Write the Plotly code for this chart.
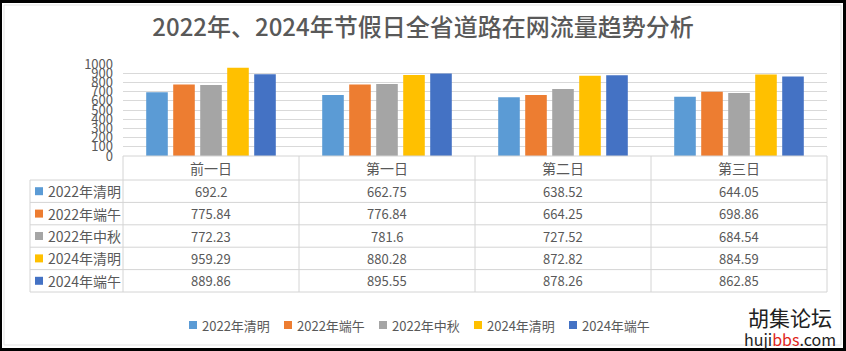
import plotly.graph_objects as go

# ---------------- data ----------------
categories = ["前一日", "第一日", "第二日", "第三日"]
series_names = ["2022年清明", "2022年端午", "2022年中秋", "2024年清明", "2024年端午"]
qingming_2022 = [692.2, 662.75, 638.52, 644.05]
duanwu_2022 = [775.84, 776.84, 664.25, 698.86]
zhongqiu_2022 = [772.23, 781.6, 727.52, 684.54]
qingming_2024 = [959.29, 880.28, 872.82, 884.59]
duanwu_2024 = [889.86, 895.55, 878.26, 862.85]
y_tick_values = [0, 100, 200, 300, 400, 500, 600, 700, 800, 900, 1000]
title_text = "2022年、2024年节假日全省道路在网流量趋势分析"

series_values = [qingming_2022, duanwu_2022, zhongqiu_2022, qingming_2024, duanwu_2024]
colors = ["#5B9BD5", "#ED7D31", "#A5A5A5", "#FFC000", "#4472C4"]

# ---------------- geometry (pixels) ----------------
W, H = 846, 351
L, R, T, B = 123, 19, 64, 195
PW, PH = W - L - R, H - T - B
FONT = "Noto Sans CJK SC"
TXT = "#595959"
LINE = "#D4D4D4"


def px(x):
    return (x - L) / PW


def py(y):
    return (H - B - y) / PH


fig = go.Figure()
for name, vals, col in zip(series_names, series_values, colors):
    fig.add_trace(go.Bar(x=categories, y=vals, name=name, marker_color=col,
                         marker_line_width=0, showlegend=False))

shapes = []
annotations = []

# table rows
header_top, header_bot = 156, 180
row_h = (292 - 180) / 5
row_lines = [header_bot + i * row_h for i in range(6)]
col_edges = [L + i * PW / len(categories) for i in range(len(categories) + 1)]
label_left = 30

# horizontal lines
shapes.append(dict(type="line", xref="paper", yref="paper", x0=px(L), x1=px(W - R),
                   y0=py(header_top), y1=py(header_top), line=dict(color=LINE, width=1)))
for yy in row_lines:
    shapes.append(dict(type="line", xref="paper", yref="paper", x0=px(label_left), x1=px(W - R),
                       y0=py(yy), y1=py(yy), line=dict(color=LINE, width=1)))
# vertical lines
for xx in col_edges:
    shapes.append(dict(type="line", xref="paper", yref="paper", x0=px(xx), x1=px(xx),
                       y0=py(header_top), y1=py(row_lines[-1]), line=dict(color=LINE, width=1)))
shapes.append(dict(type="line", xref="paper", yref="paper", x0=px(label_left), x1=px(label_left),
                   y0=py(header_bot), y1=py(row_lines[-1]), line=dict(color=LINE, width=1)))

# header labels
for c in categories:
    annotations.append(dict(x=c, xref="x", y=py((header_top + header_bot) / 2), yref="paper",
                            text=c, showarrow=False, xanchor="center", yanchor="middle",
                            font=dict(family=FONT, size=14, color=TXT)))
# rows
for i, (name, vals, col) in enumerate(zip(series_names, series_values, colors)):
    yc = row_lines[i] + row_h / 2
    shapes.append(dict(type="rect", xref="paper", yref="paper", x0=px(35), x1=px(43),
                       y0=py(yc - 4), y1=py(yc + 4), fillcolor=col, line_width=0))
    annotations.append(dict(x=px(46), xref="paper", y=py(yc), yref="paper", text=name,
                            showarrow=False, xanchor="left", yanchor="middle",
                            font=dict(family=FONT, size=14, color=TXT)))
    for c, v in zip(categories, vals):
        annotations.append(dict(x=c, xref="x", y=py(yc), yref="paper", text=str(v),
                                showarrow=False, xanchor="center", yanchor="middle",
                                font=dict(family=FONT, size=13, color=TXT)))

# bottom legend
leg_y = 325
leg_x0 = 189
leg_pitch = 95
for i, (name, col) in enumerate(zip(series_names, colors)):
    x0 = leg_x0 + i * leg_pitch
    shapes.append(dict(type="rect", xref="paper", yref="paper", x0=px(x0), x1=px(x0 + 8),
                       y0=py(leg_y - 4), y1=py(leg_y + 4), fillcolor=col, line_width=0))
    annotations.append(dict(x=px(x0 + 11), xref="paper", y=py(leg_y), yref="paper", text=name,
                            showarrow=False, xanchor="left", yanchor="middle",
                            font=dict(family=FONT, size=13, color=TXT)))

# watermark
annotations.append(dict(x=px(790), xref="paper", y=py(317), yref="paper", text="胡集论坛",
                        showarrow=False, xanchor="center", yanchor="middle",
                        font=dict(family=FONT, size=21, color="#222222")))
annotations.append(dict(x=px(790), xref="paper", y=py(339), yref="paper",
                        text="huji<span style='color:#E0261B'>bbs</span>.com",
                        showarrow=False, xanchor="center", yanchor="middle",
                        font=dict(family=FONT, size=16, color="#222222")))

# light inner chart border
shapes.append(dict(type="rect", xref="paper", yref="paper", x0=px(4), x1=px(841),
                   y0=py(5), y1=py(345), line=dict(color="#E3E3E3", width=1), layer="below"))
# black outer frame
for (x0, x1, y0, y1) in [(0, W, 0, 3), (0, W, 348, H), (0, 2, 0, H), (843, W, 0, H)]:
    shapes.append(dict(type="rect", xref="paper", yref="paper", x0=px(x0), x1=px(x1),
                       y0=py(y0), y1=py(y1), fillcolor="black", line_width=0, layer="above"))

fig.update_layout(
    width=W, height=H,
    margin=dict(l=L, r=R, t=T, b=B, pad=0),
    paper_bgcolor="white", plot_bgcolor="white",
    barmode="group", bargap=0.233, bargroupgap=0.2,
    title=dict(text=title_text, x=423 / W, xanchor="center", xref="container",
               y=1 - 28 / H, yanchor="middle", yref="container",
               font=dict(family=FONT, size=24, color=TXT, weight=500)),
    xaxis=dict(showticklabels=False, showgrid=False, zeroline=False, showline=False, ticks=""),
    yaxis=dict(range=[0, 1000], tickvals=y_tick_values, showgrid=True, gridcolor="#D9D9D9",
               gridwidth=1, zeroline=False, showline=False, ticks="", ticklabelstandoff=9,
               tickfont=dict(family=FONT, size=13, color=TXT)),
    shapes=shapes, annotations=annotations,
    font=dict(family=FONT, color=TXT),
)

fig.write_html("out.html")
